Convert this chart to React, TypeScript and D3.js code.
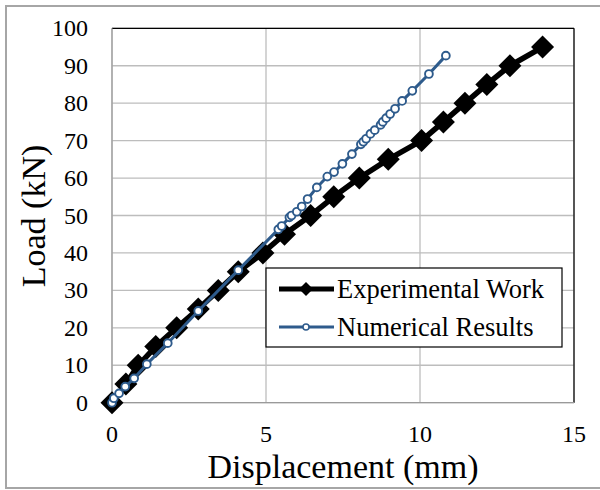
import React from "react";
import * as d3 from "d3";

const expDisp = [0, 0.45, 0.85, 1.42, 2.1, 2.8, 3.45, 4.1, 4.9, 5.6, 6.45, 7.2, 8.03, 8.97, 10.05, 10.76, 11.46, 12.17, 12.92, 13.98];
const expLoad = [0, 5, 10, 15, 20, 25, 30, 35, 40, 45, 50, 55, 60, 65, 70, 75, 80, 85, 90, 95];

const numDisp = [0, 0.06, 0.23, 0.43, 0.72, 1.13, 1.81, 2.8, 4.1, 5.4, 5.51, 5.76, 5.83, 6.0, 6.16, 6.35, 6.65, 6.99, 7.21, 7.48, 7.79, 8.08, 8.16, 8.25, 8.39, 8.53, 8.72, 8.79, 8.9, 9.03, 9.19, 9.42, 9.75, 10.29, 10.84];
const numLoad = [0, 1.2, 2.5, 4.3, 6.5, 10.3, 15.9, 24.5, 35.4, 46.3, 47.2, 49.5, 50.0, 51.0, 52.4, 54.4, 57.5, 60.4, 61.6, 63.8, 66.4, 69.0, 69.7, 70.5, 71.8, 72.8, 74.2, 75.0, 76.0, 77.1, 78.5, 80.6, 83.3, 87.8, 92.7];

const xTicks = [0, 5, 10, 15];
const yTicks = [0, 10, 20, 30, 40, 50, 60, 70, 80, 90, 100];
const seriesNames = ["Experimental Work", "Numerical Results"];

const W = 600;
const H = 490;
const blue = "#2E5B8C";
const serif: React.CSSProperties = {
  fontFamily: "'Times New Roman', 'Liberation Serif', Tinos, 'DejaVu Serif', 'Noto Serif', serif",
};

export default function App() {
  const x = d3.scaleLinear().domain([0, 15]).range([112, 574]);
  const y = d3.scaleLinear().domain([0, 100]).range([402.7, 28.3]);

  const expPts = expDisp.map((d, i) => [d, expLoad[i]] as [number, number]);
  const numPts = numDisp.map((d, i) => [d, numLoad[i]] as [number, number]);
  const line = d3.line<[number, number]>().x((d) => x(d[0])).y((d) => y(d[1]));

  const diamond = (cx: number, cy: number, r: number) =>
    `M${cx},${cy - r}L${cx + r},${cy}L${cx},${cy + r}L${cx - r},${cy}Z`;

  const lg = { x0: 266, y0: 268, x1: 562, y1: 347 };
  const row1 = 289;
  const row2 = 327;

  return (
    <svg width={W} height={H} style={{ position: "absolute", left: 0, top: 0, background: "#fff" }}>
      <rect x={0} y={0} width={W} height={H} fill="#fff" />
      <rect x={6} y={6} width={W + 10} height={482} fill="none" stroke="#a6a6a6" strokeWidth={2} />

      {yTicks.map((t) => (
        <line key={"gy" + t} x1={x(0)} x2={x(15)} y1={y(t)} y2={y(t)} stroke="#bdbdbd" strokeWidth={1.3} />
      ))}
      {xTicks.map((t) => (
        <line key={"gx" + t} x1={x(t)} x2={x(t)} y1={y(0)} y2={y(100)} stroke="#bdbdbd" strokeWidth={1.3} />
      ))}
      <line x1={x(0)} x2={x(15)} y1={y(100)} y2={y(100)} stroke="#000" strokeWidth={1.2} />
      <line x1={x(15)} x2={x(15)} y1={y(100)} y2={y(0)} stroke="#000" strokeWidth={1.2} />
      <line x1={x(0)} x2={x(0)} y1={y(100)} y2={y(0)} stroke="#9a9a9a" strokeWidth={1.2} />
      <line x1={x(0)} x2={x(15)} y1={y(0)} y2={y(0)} stroke="#9a9a9a" strokeWidth={1.2} />

      {yTicks.map((t) => (
        <text key={"ty" + t} x={88} y={y(t) + 8} textAnchor="end" fontSize={24} fill="#000" style={serif}>
          {t}
        </text>
      ))}
      {xTicks.map((t) => (
        <text key={"tx" + t} x={x(t)} y={442} textAnchor="middle" fontSize={24} fill="#000" style={serif}>
          {t}
        </text>
      ))}

      <text x={(x(0) + x(15)) / 2} y={478} textAnchor="middle" fontSize={34} fill="#000" style={serif}>
        Displacement (mm)
      </text>
      <text transform={`translate(45,${216}) rotate(-90)`} textAnchor="middle" fontSize={34} fill="#000" style={serif}>
        Load (kN)
      </text>

      <path d={line(expPts) || ""} fill="none" stroke="#000" strokeWidth={5.5} strokeLinejoin="round" />
      {expPts.map((p, i) => (
        <path key={"e" + i} d={diamond(x(p[0]), y(p[1]), 11.5)} fill="#000" />
      ))}

      <path d={line(numPts) || ""} fill="none" stroke={blue} strokeWidth={3} strokeLinejoin="round" />
      {numPts.map((p, i) => (
        <circle key={"n" + i} cx={x(p[0])} cy={y(p[1])} r={3.9} fill="#fff" stroke={blue} strokeWidth={1.9} />
      ))}

      <rect x={lg.x0} y={lg.y0} width={lg.x1 - lg.x0} height={lg.y1 - lg.y0} fill="#fff" stroke="#000" strokeWidth={1.2} />
      <line x1={279} x2={334} y1={row1} y2={row1} stroke="#000" strokeWidth={5} />
      <path d={diamond(306, row1, 7)} fill="#000" />
      <text x={337} y={row1 + 9} fontSize={26.5} fill="#000" style={serif}>{seriesNames[0]}</text>
      <line x1={279} x2={334} y1={row2} y2={row2} stroke={blue} strokeWidth={3} />
      <circle cx={306} cy={row2} r={3} fill="#fff" stroke={blue} strokeWidth={1.5} />
      <text x={337} y={row2 + 9} fontSize={26.5} fill="#000" style={serif}>{seriesNames[1]}</text>
    </svg>
  );
}
